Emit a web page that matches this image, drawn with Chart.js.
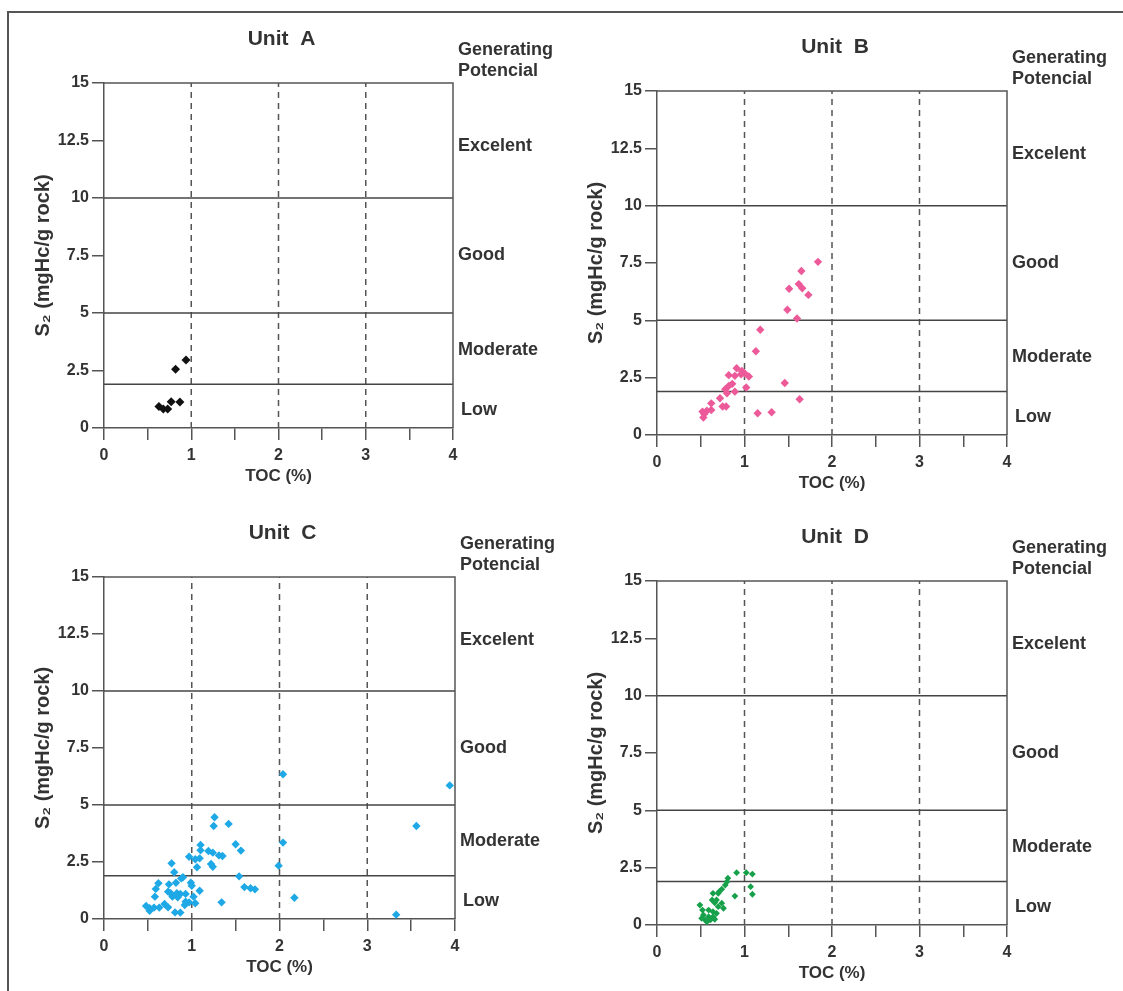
<!DOCTYPE html>
<html>
<head>
<meta charset="utf-8">
<script src="https://cdn.jsdelivr.net/npm/chart.js@4.4.1/dist/chart.umd.min.js"></script>
<style>
  body { margin: 0; background: #fff; width: 1123px; height: 991px; overflow: hidden; position: relative; }
  #frame { position: absolute; left: 7px; top: 11px; right: 0; bottom: 0; border-left: 2px solid #555; border-top: 2px solid #555; }
  canvas { position: absolute; }
</style>
</head>
<body>
<div id="frame"></div>
<canvas id="unitA"></canvas>
<canvas id="unitB"></canvas>
<canvas id="unitC"></canvas>
<canvas id="unitD"></canvas>
<script>
// Unit A
const tocA = [0.63, 0.68, 0.73, 0.77, 0.87, 0.82, 0.94];
const s2A = [0.93, 0.83, 0.83, 1.14, 1.13, 2.55, 2.96];

// Unit B
const tocB = [1.84, 1.65, 1.62, 1.66, 1.51, 1.73, 1.49, 1.60, 1.18, 1.13, 0.91, 0.97, 1.00, 1.05, 0.96, 0.82, 0.89, 1.02,
  1.46, 0.86, 0.82, 0.78, 0.89, 0.80, 0.72, 0.62, 0.75, 0.79, 0.62, 0.57, 0.52, 0.54, 0.53, 1.63, 1.15, 1.31];
const s2B = [7.55, 7.15, 6.58, 6.40, 6.38, 6.11, 5.46, 5.08, 4.59, 3.65, 2.91, 2.79, 2.69, 2.55, 2.65, 2.61, 2.58, 2.07,
  2.27, 2.23, 2.14, 2.00, 1.89, 1.82, 1.60, 1.38, 1.24, 1.24, 1.09, 1.06, 1.02, 0.92, 0.76, 1.56, 0.95, 0.99];

// Unit C
const tocC = [2.04, 2.04, 1.99, 1.26, 1.25, 1.42, 1.50, 1.56, 1.10, 1.10, 1.19, 1.24, 1.31, 1.35, 0.97, 1.04, 1.09, 1.22,
  1.24, 1.06, 0.77, 0.80, 0.88, 0.90, 1.54, 1.60, 1.67, 1.72, 0.62, 0.74, 0.82, 0.99, 1.00, 1.09, 0.59, 0.73, 0.76, 0.83,
  0.87, 0.93, 1.02, 0.58, 0.78, 0.84, 0.93, 0.97, 1.04, 0.92, 0.69, 0.73, 1.34, 0.48, 0.52, 0.57, 0.63, 0.52, 0.81, 0.87,
  2.17, 3.94, 3.56, 3.33];
const s2C = [6.35, 3.35, 2.34, 4.46, 4.08, 4.17, 3.28, 3.00, 3.25, 3.01, 2.98, 2.91, 2.79, 2.76, 2.73, 2.62, 2.66, 2.41,
  2.29, 2.27, 2.44, 2.05, 1.78, 1.83, 1.87, 1.40, 1.35, 1.30, 1.57, 1.52, 1.59, 1.59, 1.46, 1.24, 1.32, 1.20, 1.13, 1.13,
  1.10, 1.10, 0.98, 0.98, 0.98, 0.95, 0.76, 0.73, 0.69, 0.61, 0.66, 0.51, 0.73, 0.57, 0.47, 0.50, 0.50, 0.36, 0.29, 0.28,
  0.93, 5.86, 4.08, 0.19];

// Unit D
const tocD = [0.91, 1.02, 1.09, 1.07, 1.09, 0.89, 0.81, 0.80, 0.78, 0.74, 0.71, 0.64, 0.68, 0.66, 0.74, 0.70, 0.76, 0.49,
  0.52, 0.59, 0.64, 0.68, 0.53, 0.59, 0.64, 0.51, 0.55, 0.61, 0.66, 0.57, 0.63, 0.70];
const s2D = [2.28, 2.28, 2.22, 1.67, 1.34, 1.26, 2.04, 1.89, 1.74, 1.56, 1.45, 1.38, 1.09, 0.97, 0.95, 0.80, 0.73, 0.87,
  0.65, 0.65, 0.58, 0.51, 0.44, 0.36, 0.36, 0.29, 0.22, 0.22, 0.25, 0.14, 1.09, 1.38];

// classification lines and labels
const potentialLimits = [1.9, 5, 10];
const tocGuides = [1, 2, 3];
const classLabels = ["Excelent", "Good", "Moderate", "Low"];
const classLabelY = [12.25, 7.5, 3.4, 0.8];

const FONT = '"Liberation Sans", Arial, sans-serif';
const TEXT = '#333';
Chart.defaults.font.family = FONT;

const panelText = {
  id: 'panelText',
  afterDraw(chart, args, opts) {
    const { ctx, chartArea: a, scales: { y } } = chart;
    ctx.save();
    ctx.strokeStyle = '#555';
    ctx.lineWidth = 1.5;
    ctx.beginPath();
    ctx.moveTo(a.left, a.top);
    ctx.lineTo(a.right, a.top);
    ctx.lineTo(a.right, a.bottom);
    ctx.stroke();

    ctx.fillStyle = TEXT;
    ctx.textBaseline = 'middle';
    ctx.textAlign = 'center';
    ctx.font = 'bold 21px ' + FONT;
    ctx.fillText(opts.title, (a.left + a.right) / 2 + 3, a.top - 44);

    ctx.textAlign = 'left';
    ctx.font = 'bold 18px ' + FONT;
    ctx.fillText('Generating', a.right + 5, a.top - 33);
    ctx.fillText('Potencial', a.right + 5, a.top - 12);
    classLabels.forEach((t, i) => {
      ctx.fillText(t, a.right + (t === 'Low' ? 8 : 5), y.getPixelForValue(classLabelY[i]));
    });
    ctx.restore();
  }
};

function makePanel(id, title, toc, s2, color, radius, box) {
  const canvas = document.getElementById(id);
  const w = 94 + box.w + 112;
  const h = 69 + box.h + 77;
  canvas.width = w;
  canvas.height = h;
  canvas.style.left = (box.left - 94) + 'px';
  canvas.style.top = (box.top - 69) + 'px';

  const datasets = [{
    data: toc.map((x, i) => ({ x: x, y: s2[i] })),
    backgroundColor: color,
    borderColor: color,
    borderWidth: 0,
    pointStyle: 'rectRot',
    pointRadius: radius,
    order: 0
  }];
  potentialLimits.forEach(v => datasets.push({
    data: [{ x: 0, y: v }, { x: 4, y: v }],
    showLine: true, borderColor: '#444', borderWidth: 1.5, pointRadius: 0, order: 1
  }));
  tocGuides.forEach(v => datasets.push({
    data: [{ x: v, y: 0 }, { x: v, y: 15 }],
    showLine: true, borderColor: '#555', borderWidth: 1.5, borderDash: [6, 5], pointRadius: 0, order: 1
  }));

  new Chart(canvas.getContext('2d'), {
    type: 'scatter',
    data: { datasets: datasets },
    options: {
      responsive: false,
      animation: false,
      layout: { padding: { top: 69, right: w - 94 - box.w, bottom: 0, left: 0 } },
      plugins: {
        legend: { display: false },
        tooltip: { enabled: false },
        panelText: { title: title }
      },
      scales: {
        x: {
          type: 'linear', min: 0, max: 4,
          afterFit: s => { s.height = 77; },
          ticks: {
            stepSize: 0.5,
            callback: v => Number.isInteger(v) ? v : '',
            font: { size: 16, weight: 'bold' }, color: TEXT, padding: 6, maxRotation: 0
          },
          grid: { drawOnChartArea: false, tickLength: 12, color: '#555', lineWidth: 1.5 },
          border: { color: '#555', width: 1.5 },
          title: { display: true, text: 'TOC (%)', color: TEXT, font: { size: 17, weight: 'bold' }, padding: { top: 0, bottom: 18 } }
        },
        y: {
          min: 0, max: 15,
          afterFit: s => { s.width = 94; },
          ticks: { stepSize: 2.5, font: { size: 16, weight: 'bold' }, color: TEXT, padding: 3 },
          grid: { drawOnChartArea: false, tickLength: 12, color: '#555', lineWidth: 1.5 },
          border: { color: '#555', width: 1.5 },
          title: { display: true, text: 'S₂ (mgHc/g rock)', color: TEXT, font: { size: 20, weight: 'bold' }, padding: { top: 21, bottom: 0 } }
        }
      }
    },
    plugins: [panelText]
  });
}

makePanel('unitA', 'Unit  A', tocA, s2A, '#111111', 4.5, { left: 104, top: 83, w: 349, h: 345 });
makePanel('unitB', 'Unit  B', tocB, s2B, '#ec5a9a', 4.2, { left: 657, top: 91, w: 350, h: 344 });
makePanel('unitC', 'Unit  C', tocC, s2C, '#1ea8e6', 4.2, { left: 104, top: 577, w: 351, h: 342 });
makePanel('unitD', 'Unit  D', tocD, s2D, '#17a04a', 3.4, { left: 657, top: 581, w: 350, h: 344 });
</script>
</body>
</html>
